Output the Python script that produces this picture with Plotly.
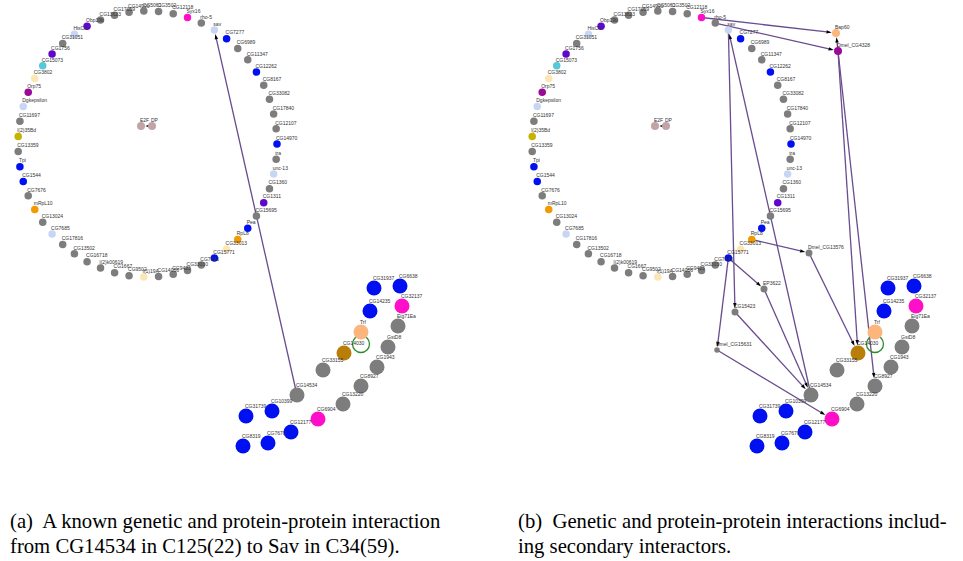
import math
import plotly.graph_objects as go

# ---------------- data ----------------
ring_genes = ["CG14970", "tra", "unc-13", "CG1360", "CG1311", "CG15695", "Pea", "RpL8", "CG33013", "CG15771",
              "CG7083", "CG33030", "CG9423", "CG14056", "l(1)19A", "CG9502", "CG1667", "l(2)k00619", "CG16718", "CG13502",
              "CG17816", "CG7685", "CG13024", "mRpL10", "CG7676", "CG1544", "Tpi", "CG13359", "l(2)35Bd", "CG11697",
              "Dgkepsilon", "Orp75", "CG3802", "CG15073", "CG1756", "CG31051", "HisCl1", "Obp19b", "CG13623", "CG17059",
              "CG14990", "CG5061", "CG3502", "CG12118", "Syx16", "rho-5", "sav", "CG7277", "CG6989", "CG11347",
              "CG12262", "CG8167", "CG33082", "CG17840", "CG12107"]
ring_groups = ["blue", "gray", "lightblue", "gray", "violet", "gray", "blue", "orange", "cream", "blue",
               "gray", "gray", "gray", "gray", "cream", "gray", "gray", "gray", "gray", "gray",
               "gray", "lightblue", "gray", "orange", "gray", "blue", "blue", "gray", "olive", "gray",
               "lightblue", "plum", "cream", "cyan", "violet", "gray", "lightblue", "violet", "gray", "gray",
               "gray", "gray", "gray", "gray", "pink", "gray", "lightblue", "blue", "gray", "gray",
               "blue", "gray", "gray", "gray", "gray"]

hub_genes = ["E2F", "DP"]
hub_groups = ["mauve", "mauve"]

cluster_genes = ["CG31937", "CG6638", "CG14235", "CG32137", "Eig71Ea", "Trf", "CG14030", "GstD8", "CG33155",
                 "CG1943", "CG8927", "CG13220", "CG14534", "CG10399", "CG31739", "CG6904", "CG12177", "CG7670", "CG8319"]
cluster_groups = ["blue", "blue", "blue", "pink", "gray", "peach", "brown", "gray", "gray",
                  "gray", "gray", "gray", "gray", "blue", "blue", "pink", "blue", "blue", "blue"]

secondary_genes = ["Bap60", "Dmel_CG4328", "Dmel_CG13576", "EP3622", "CG15423", "Dmel_CG15631"]
secondary_groups = ["peach", "plum", "gray", "gray", "gray", "gray"]

self_loops = ["CG14030"]

edges_a = [("CG14534", "sav"), ("DP", "E2F")]
edges_b = [("CG14534", "sav"), ("DP", "E2F"),
           ("Syx16", "Bap60"), ("rho-5", "Dmel_CG4328"), ("Dmel_CG4328", "Bap60"),
           ("Dmel_CG4328", "CG14030"), ("Dmel_CG4328", "CG8927"),
           ("sav", "CG15423"), ("CG15423", "CG14534"), ("EP3622", "CG14534"),
           ("CG15771", "EP3622"), ("CG15771", "Dmel_CG15631"),
           ("RpL8", "Dmel_CG13576"), ("Dmel_CG13576", "CG14030"),
           ("Dmel_CG15631", "CG6904")]

caption_a = ["(a)  A known genetic and protein-protein interaction",
             "from CG14534 in C125(22) to Sav in C34(59)."]
caption_b = ["(b)  Genetic and protein-protein interactions includ-",
             "ing secondary interactors."]

# ---------------- styles / layout ----------------
W, H = 963, 561
COLORS = {"gray": "#7d7d7d", "blue": "#0010f0", "lightblue": "#c8d6f4", "violet": "#5f08cc",
          "orange": "#f29a00", "cream": "#fbe6b4", "olive": "#c4b400", "plum": "#990a99",
          "cyan": "#55c9d9", "pink": "#ff10c8", "peach": "#fdb57e", "brown": "#b97d0a",
          "mauve": "#c2a3a7"}
EDGE_COLOR = "#6a4c8f"
PANEL_DX = [0, 514]

# ring (circular layout)
RING_C = (147.5, 144.0)
RING_R = (129.5, 133.0)
RING_SIZE = 7.5
CLUSTER_SIZE = 15
pos = {}
size = {}
n = len(ring_genes)
for i, g in enumerate(ring_genes):
    t = 2 * math.pi * i / n
    pos[g] = (RING_C[0] + RING_R[0] * math.cos(t), RING_C[1] + RING_R[1] * math.sin(t))
    size[g] = RING_SIZE
hub_pos = {"E2F": (141, 126), "DP": (152, 126)}
cluster_pos = {"CG31937": (374, 288), "CG6638": (400, 286), "CG14235": (370, 311), "CG32137": (402, 306),
               "Eig71Ea": (398, 326), "Trf": (361, 332), "CG14030": (344, 353), "GstD8": (388, 347),
               "CG33155": (323, 370), "CG1943": (377, 367), "CG8927": (361, 386), "CG13220": (343, 404),
               "CG14534": (297, 395), "CG10399": (272, 411), "CG31739": (246, 416), "CG6904": (318, 419),
               "CG12177": (291, 432), "CG7670": (268, 443), "CG8319": (243, 446)}
secondary_pos = {"Bap60": (322, 33), "Dmel_CG4328": (324, 51), "Dmel_CG13576": (295, 253),
                 "EP3622": (250, 289), "CG15423": (221, 312), "Dmel_CG15631": (203, 350)}
secondary_size = {"Bap60": 8, "Dmel_CG4328": 8, "Dmel_CG13576": 7, "EP3622": 7, "CG15423": 7, "Dmel_CG15631": 5.5}
loop_offset = (17, -9)
for g in hub_genes:
    pos[g] = hub_pos[g]; size[g] = 8
for g in cluster_genes:
    pos[g] = cluster_pos[g]; size[g] = CLUSTER_SIZE
for g in secondary_genes:
    pos[g] = secondary_pos[g]; size[g] = secondary_size[g]

fig = go.Figure()
LABEL_FONT = dict(family="Liberation Sans, Arial, sans-serif", size=5, color="#333333")


def add_edges(edges, dx):
    for s, t in edges:
        x0, y0 = pos[s]; x1, y1 = pos[t]
        L = math.hypot(x1 - x0, y1 - y0)
        ux, uy = (x1 - x0) / L, (y1 - y0) / L
        r = size[t] / 2 + 0.3
        ex, ey = x1 - ux * r, y1 - uy * r
        fig.add_trace(go.Scatter(x=[x0 + dx, ex + dx], y=[y0, ey], mode="lines+markers",
                                 line=dict(color=EDGE_COLOR, width=1.3),
                                 marker=dict(symbol=["circle", "arrow"], size=[0, 5.5], color="black",
                                             opacity=1, angleref="previous", line=dict(width=0)),
                                 hoverinfo="skip"))


def add_nodes(genes, groups, dx, label_dy):
    xs = [pos[g][0] + dx for g in genes]
    ys = [pos[g][1] for g in genes]
    fig.add_trace(go.Scatter(x=xs, y=ys, mode="markers",
                             marker=dict(size=[size[g] for g in genes], opacity=1,
                                         color=[COLORS[c] for c in groups], line=dict(width=0)),
                             hovertext=genes, hoverinfo="text"))
    fig.add_trace(go.Scatter(x=[x - 1 for x in xs], y=[y + label_dy for y in ys], mode="text",
                             text=genes, textposition="middle right", textfont=LABEL_FONT,
                             hoverinfo="skip"))


for panel, edges in enumerate([edges_a, edges_b]):
    dx = PANEL_DX[panel]
    add_edges(edges, dx)
    for g in self_loops:
        fig.add_trace(go.Scatter(x=[pos[g][0] + loop_offset[0] + dx], y=[pos[g][1] + loop_offset[1]],
                                 mode="markers",
                                 marker=dict(symbol="circle-open", size=17, color="#2e8b2e", opacity=1,
                                             line=dict(width=1.3, color="#2e8b2e")),
                                 hoverinfo="skip"))
    add_nodes(ring_genes, ring_groups, dx, -5.5)
    add_nodes(hub_genes, hub_groups, dx, -5.5)
    add_nodes(cluster_genes, cluster_groups, dx, -9)
    if panel == 1:
        add_nodes(secondary_genes, secondary_groups, dx, -5)

CAP_FONT = dict(family="Liberation Serif, Times New Roman, serif", size=20.7, color="black")
for cap, x0 in [(caption_a, 8), (caption_b, 516)]:
    for k, line in enumerate(cap):
        fig.add_annotation(x=x0, y=521 + 25 * k, text=line, showarrow=False, xanchor="left",
                           yanchor="middle", font=CAP_FONT, xref="x", yref="y")

fig.update_layout(width=W, height=H, margin=dict(l=0, r=0, t=0, b=0), showlegend=False,
                  plot_bgcolor="white", paper_bgcolor="white",
                  xaxis=dict(range=[0, W], visible=False, fixedrange=True),
                  yaxis=dict(range=[H, 0], visible=False, fixedrange=True))
fig.write_html("out.html", config={"displayModeBar": False},
               post_script="document.body.style.margin='0';")
